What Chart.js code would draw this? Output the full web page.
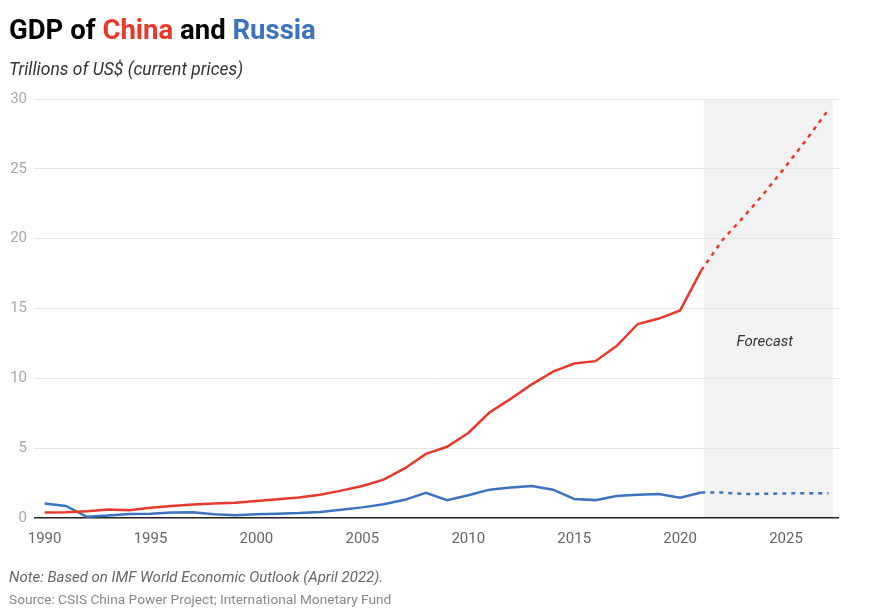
<!DOCTYPE html>
<html>
<head>
<meta charset="utf-8">
<script src="https://cdn.jsdelivr.net/npm/chart.js@4/dist/chart.umd.min.js"></script>
<style>
  html, body { margin: 0; padding: 0; background: #fff; }
  body { width: 880px; height: 612px; position: relative; overflow: hidden; font-family: Roboto, "Noto Sans", sans-serif; }
  #title { position: absolute; left: 9px; top: 13px; font-size: 27.5px; font-weight: 700; color: #000; }
  #sub { position: absolute; left: 9px; top: 59px; font-size: 17.5px; font-style: italic; color: #333; }
  #note { position: absolute; left: 9px; top: 568px; font-size: 15px; font-style: italic; color: #666; }
  #src { position: absolute; left: 9px; top: 591px; font-size: 13.7px; color: #888; }
  #wrap { position: absolute; left: 0; top: 0; width: 880px; height: 612px; }
</style>
</head>
<body>
<div id="wrap"><canvas id="gdp" width="880" height="612"></canvas></div>
<div id="title">GDP of <span style="color:#e8392d">China</span> and <span style="color:#3b73bf">Russia</span></div>
<div id="sub">Trillions of US$ (current prices)</div>
<div id="note">Note: Based on IMF World Economic Outlook (April 2022).</div>
<div id="src">Source: CSIS China Power Project; International Monetary Fund</div>
<script>
var years = [1990, 1991, 1992, 1993, 1994, 1995, 1996, 1997, 1998, 1999,
             2000, 2001, 2002, 2003, 2004, 2005, 2006, 2007, 2008, 2009,
             2010, 2011, 2012, 2013, 2014, 2015, 2016, 2017, 2018, 2019,
             2020, 2021, 2022, 2023, 2024, 2025, 2026, 2027];

var china = [0.39, 0.41, 0.49, 0.61, 0.56, 0.73, 0.86, 0.96, 1.03, 1.09,
             1.21, 1.34, 1.47, 1.66, 1.96, 2.29, 2.75, 3.55, 4.59, 5.10,
             6.09, 7.55, 8.53, 9.57, 10.48, 11.06, 11.23, 12.31, 13.89, 14.28,
             14.86, 17.73, 19.91, 21.56, 23.31, 25.20, 27.17, 29.24];

var russia = [1.03, 0.86, 0.09, 0.18, 0.28, 0.31, 0.39, 0.41, 0.27, 0.20,
              0.26, 0.31, 0.35, 0.43, 0.59, 0.76, 0.99, 1.30, 1.80, 1.27,
              1.63, 2.03, 2.18, 2.29, 2.03, 1.36, 1.28, 1.58, 1.67, 1.72,
              1.46, 1.82, 1.82, 1.72, 1.73, 1.76, 1.78, 1.78];

var xTicks = [1990, 1995, 2000, 2005, 2010, 2015, 2020, 2025];
var forecastStart = 2021;
var shadeStart = 2021.12;
var shadeEnd = 2027.2;

var dashAfter = function(ctx) {
  return ctx.p0.parsed.x >= forecastStart ? [4, 5] : undefined;
};

var shade = {
  id: 'shade',
  beforeDraw: function(chart) {
    var c = chart.ctx, a = chart.chartArea, x = chart.scales.x, y = chart.scales.y;
    var x0 = x.getPixelForValue(shadeStart), x1 = x.getPixelForValue(shadeEnd);
    c.save();
    c.fillStyle = '#f2f2f2';
    c.fillRect(x0, a.top, x1 - x0, a.bottom - a.top);
    c.fillStyle = '#333';
    c.font = 'italic 15px Roboto';
    c.textAlign = 'center';
    c.textBaseline = 'middle';
    c.fillText('Forecast', x.getPixelForValue(2024), y.getPixelForValue(12.56));
    c.restore();
  }
};

var ctx = document.getElementById('gdp').getContext('2d');
var chart = new Chart(ctx, {
  type: 'line',
  data: {
    labels: years,
    datasets: [{
      label: 'China',
      data: china,
      borderColor: '#e8392d',
      borderWidth: 2.5,
      pointRadius: 0,
      tension: 0,
      segment: { borderDash: dashAfter }
    }, {
      label: 'Russia',
      data: russia,
      borderColor: '#3b73bf',
      borderWidth: 2.5,
      pointRadius: 0,
      tension: 0,
      segment: { borderDash: dashAfter }
    }]
  },
  options: {
    responsive: false,
    animation: false,
    events: [],
    layout: { padding: { top: 99, left: 0, right: 41, bottom: 64 } },
    plugins: { legend: { display: false }, tooltip: { enabled: false } },
    scales: {
      x: {
        type: 'linear',
        min: 1989.5,
        max: 2027.5,
        afterBuildTicks: function(s) { s.ticks = xTicks.map(function(v) { return { value: v }; }); },
        afterFit: function(s) { s.height = 30; },
        grid: { display: false },
        border: { display: false },
        ticks: { color: '#666', font: { family: 'Roboto', size: 15 }, padding: 4,
                 callback: function(v) { return String(v); } }
      },
      y: {
        min: 0,
        max: 30,
        afterFit: function(s) { s.width = 34; },
        grid: {
          drawTicks: false,
          color: function(c) { return c.tick.value === 0 ? '#222' : '#e6e6e6'; },
          lineWidth: function(c) { return c.tick.value === 0 ? 1.5 : 1; }
        },
        border: { display: false },
        ticks: { stepSize: 5, color: '#a6a6a6', font: { family: 'Roboto', size: 15 }, padding: 7 }
      }
    }
  },
  plugins: [shade]
});
</script>
</body>
</html>
